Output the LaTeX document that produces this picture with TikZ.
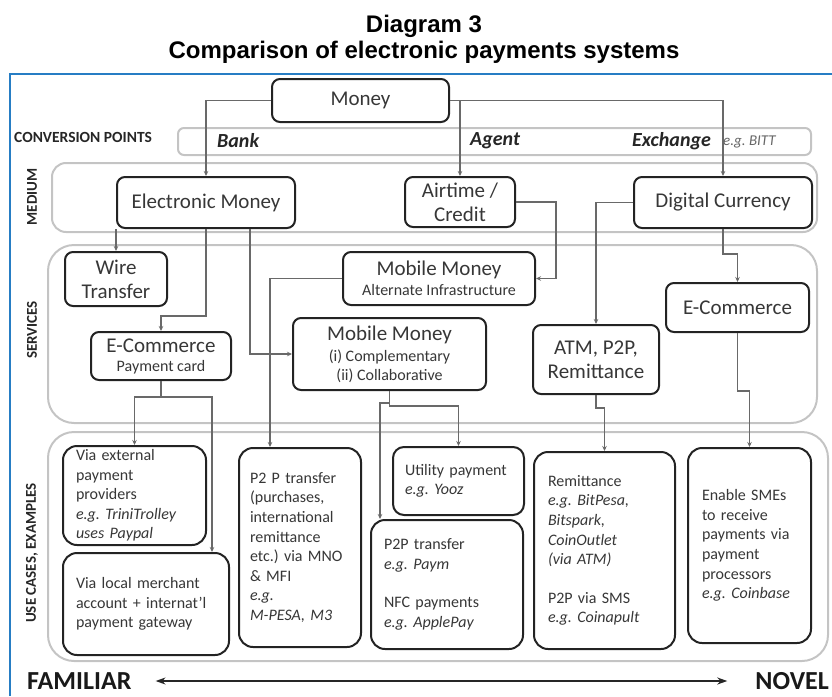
\documentclass[tikz,border=0pt]{standalone}
\usepackage{fontspec}
\setmainfont{Carlito}
\newfontfamily\titlefont{Liberation Sans}
\usetikzlibrary{arrows.meta}
\frenchspacing

\definecolor{frameblue}{RGB}{38,125,196}
\definecolor{bandgray}{RGB}{196,196,196}
\definecolor{boxline}{RGB}{35,35,35}
\definecolor{txtgray}{RGB}{55,55,55}
\definecolor{linkgray}{RGB}{105,105,105}

\tikzset{
  box/.style={draw=boxline, line width=2pt, rounded corners=8pt, fill=white, text=txtgray,
    align=center, inner sep=2pt, font=\fontsize{21}{24}\selectfont},
  ucbox/.style={draw=boxline, line width=2pt, rounded corners=14pt, fill=white, text=txtgray,
    align=left, inner xsep=13pt, inner ysep=2pt, font=\fontsize{16}{19.6}\selectfont},
  band/.style={draw=bandgray, line width=2pt},
  link/.style={draw=linkgray, line width=1.1pt, -{Stealth[length=5pt,width=4.5pt]}},
  sidelabel/.style={rotate=90, inner sep=0pt, text=black!85, font=\bfseries\fontsize{15}{17}\selectfont},
  convpoint/.style={anchor=west, inner sep=0pt, text=black!85, font=\bfseries\itshape\fontsize{20}{22}\selectfont}
}

\begin{document}
\begin{tikzpicture}[x=1pt,y=-1pt]
  \useasboundingbox (0,0) rectangle (832,696);

  % title
  \node[font=\titlefont\bfseries\fontsize{24}{27}\selectfont] (title) at (424,26) {Diagram 3};
  \node[font=\titlefont\bfseries\fontsize{24}{27}\selectfont] (subtitle) at (424,52) {Comparison of electronic payments systems};
  \draw[frameblue, line width=1.6pt] (10,696) -- (10,74) -- (832,74);

  % bands
  \draw[band, rounded corners=6pt] (178,128) rectangle (811,155);
  \draw[band, rounded corners=14pt] (52,163) rectangle (817,232);
  \draw[band, rounded corners=26pt] (48,245) rectangle (817,423);
  \draw[band, rounded corners=26pt] (48,432) rectangle (828,661);

  \node[anchor=west, inner sep=0pt, text=black!85, font=\bfseries\fontsize{15.5}{17}\selectfont] (lblconv) at (14,137) {CONVERSION POINTS};
  \node[sidelabel] (lblmedium) at (32,197) {MEDIUM};
  \node[sidelabel] (lblservices) at (32,330) {SERVICES};
  \node[sidelabel] (lbluses) at (32,553) {USE CASES, EXAMPLES};

  \node[convpoint] (bank) at (217,141) {Bank};
  \node[convpoint] (agent) at (470,141) {Agent};
  \node[convpoint] (exchange) at (632,141) {Exchange};
  \node[anchor=west, inner sep=0pt, text=black!60, font=\itshape\fontsize{15}{17}\selectfont] (bitt) at (723,142) {e.g. BITT};

  % medium
  \node[box, minimum width=177pt, minimum height=43pt] (money) at (360.5,100.5) {Money};
  \node[box, minimum width=178pt, minimum height=51pt] (emoney) at (206,202.5) {Electronic Money};
  \node[box, minimum width=110pt, minimum height=50pt] (airtime) at (460,202) {Airtime /\\Credit};
  \node[box, minimum width=178pt, minimum height=51pt] (digital) at (723,202.5) {Digital Currency};

  % services
  \node[box, minimum width=102pt, minimum height=54pt] (wire) at (116,279) {Wire\\Transfer};
  \node[box, minimum width=192pt, minimum height=53pt] (mmalt) at (439,278.5)
    {Mobile Money\\[-4pt]{\fontsize{16}{19}\selectfont Alternate Infrastructure}};
  \node[box, minimum width=140pt, minimum height=48pt] (ecomcard) at (161,356)
    {E-Commerce\\[-5pt]{\fontsize{16}{19}\selectfont Payment card}};
  \node[box, minimum width=193pt, minimum height=72pt] (mmcomp) at (389.5,354)
    {Mobile Money\\[-3pt]{\fontsize{16}{19}\selectfont (i) Complementary}\\[-5pt]{\fontsize{16}{19}\selectfont (ii) Collaborative}};
  \node[box, minimum width=126pt, minimum height=69pt] (atm) at (596,359.5) {ATM, P2P,\\Remittance};
  \node[box, minimum width=143pt, minimum height=49pt] (ecomdig) at (737.5,307.5) {E-Commerce};

  % use cases
  \node[ucbox, text width=117pt, minimum height=99pt] (viaext) at (134.5,495.5)
    {Via external\\payment\\providers\\\textit{e.g. TriniTrolley}\\\textit{uses Paypal}};
  \node[ucbox, text width=140pt, minimum height=102pt] (vialocal) at (146,604)
    {Via local merchant\\account + internat'l\\payment gateway};
  \node[ucbox, inner xsep=11pt, text width=100pt, minimum height=199pt] (ptpmno) at (300,547.5)
    {P2 P transfer\\(purchases,\\international\\remittance\\etc.) via MNO\\\& MFI\\\textit{e.g.}\\\textit{M-PESA, M3}};
  \node[ucbox, inner xsep=12pt, text width=107pt, minimum height=68pt, rounded corners=11pt] (utility) at (458.5,481)
    {Utility payment\\\textit{e.g. Yooz}};
  \node[ucbox, text width=126pt, minimum height=129pt] (ptpnfc) at (447,584.5)
    {P2P transfer\\\textit{e.g. Paym}\\[19pt]NFC payments\\\textit{e.g. ApplePay}};
  \node[ucbox, inner xsep=14pt, text width=113pt, minimum height=197pt] (remit) at (604.5,550.5)
    {Remittance\\\textit{e.g. BitPesa,}\\\textit{Bitspark,}\\\textit{CoinOutlet}\\\textit{(via ATM)}\\[19pt]P2P via SMS\\\textit{e.g. Coinapult}};
  \node[ucbox, inner xsep=14pt, text width=95pt, minimum height=195pt] (smes) at (749.5,545.5)
    {Enable SMEs\\to receive\\payments via\\payment\\processors\\\textit{e.g. Coinbase}};

  % connectors
  \draw[link] (money.west) -| (emoney.north);
  \draw[link] (money.east) -| (airtime.north);
  \draw[link] (money.east) -| (digital.north);
  \draw[link] (airtime.east) -- ++(40,0) |- (mmalt.east);
  \draw[link] (digital.west) -| (atm.north);
  \draw[link] (digital.south) -- ++(0,25) -| (ecomdig.north);
  \draw[link] (wire.north |- emoney.south) -- (wire.north);
  \draw[link] (emoney.south) -- ++(0,87) -| (ecomcard.north);
  \draw[link] ([xshift=44pt]emoney.south) |- (mmcomp.west);
  \draw[link] (mmalt.west) -| ([xshift=-30pt]ptpmno.north);
  \draw[link] (ecomcard.south) -- ++(0,16) -| (viaext.north);
  \draw[link] (ecomcard.south) -- ++(0,16) -| ([xshift=66pt]vialocal.north);
  \draw[link] (mmcomp.south) -- ++(0,15) -| (utility.north);
  \draw[link] (mmcomp.south) -- ++(0,12) -| ([xshift=-67pt]ptpnfc.north);
  \draw[link] (atm.south) -- ++(0,13) -| (remit.north);
  \draw[link] (ecomdig.south) -- ++(0,58) -| (smes.north);

  % familiar / novel
  \node[anchor=west, inner sep=0pt, font=\bfseries\fontsize{26}{28}\selectfont, text=black!90] (familiar) at (27,681) {FAMILIAR};
  \node[anchor=east, inner sep=0pt, font=\bfseries\fontsize{26}{28}\selectfont, text=black!90] (novel) at (829,681) {NOVEL};
  \draw[{Stealth[length=10pt,width=7pt]}-{Stealth[length=10pt,width=7pt]}, line width=1.5pt, black!85,
    shorten <=24pt, shorten >=28pt] (familiar.east) -- (novel.west);
\end{tikzpicture}
\end{document}
